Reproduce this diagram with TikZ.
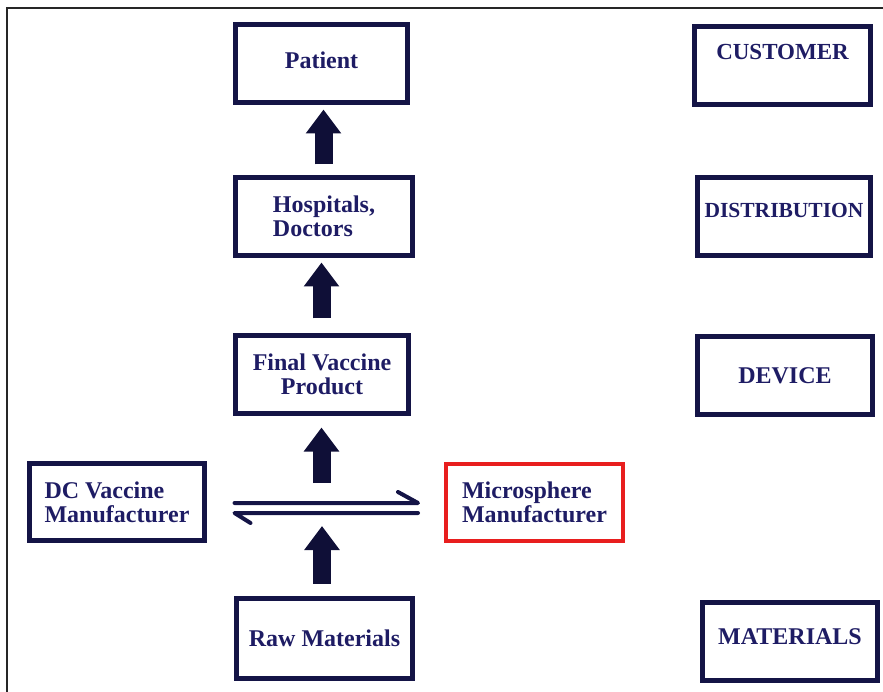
\documentclass[tikz,border=0pt]{standalone}
\usepackage{fontspec}
\setmainfont{Liberation Serif}
\usetikzlibrary{arrows.meta,calc}
\definecolor{navy}{RGB}{20,20,70}
\definecolor{txt}{RGB}{30,28,100}
\definecolor{arrowc}{RGB}{15,15,55}
\definecolor{redbox}{RGB}{232,30,30}
\begin{document}
\begin{tikzpicture}[x=1pt,y=-1pt,
  box/.style={draw=navy, line width=5pt, inner sep=0pt, text=txt,
    font=\fontsize{24}{24}\selectfont\bfseries, minimum height=78pt},
  redframe/.style={box, draw=redbox, line width=4pt},
  blk/.style={line width=18pt, draw=arrowc,
    -{Triangle[width=34pt,length=24pt]}},
  harp/.style={draw=navy, line width=4pt, line cap=round, line join=round},
  frame/.style={draw=black!85, line width=1.6pt}]
\useasboundingbox (0,0) rectangle (883,692);
% outer frame
\coordinate (fbl) at (7,692);
\coordinate (ftl) at (7,8);
\coordinate (ftr) at (883,8);
\draw[frame] (fbl) -- (ftl) -- (ftr);

% left column
\node[box, minimum width=172pt, text depth=7pt] (patient) at (321.5,63.5) {Patient};
\node[box, minimum width=177pt, align=left] (hosp) at (324,216.5) {Hospitals,\\Doctors};
\node[box, minimum width=173pt, align=center] (final) at (322,374.5) {Final Vaccine\\Product};
\node[box, minimum width=175pt, minimum height=77pt, align=left] (dc) at (117,502) {DC Vaccine\\Manufacturer};
\node[redframe, minimum width=177pt, minimum height=77pt, align=left] (micro) at (534.5,502.5) {Microsphere\\Manufacturer};
\node[box, minimum width=176pt, minimum height=80pt] (raw) at (324.5,638.5) {Raw Materials};

% right column
\node[box, minimum width=176pt, text depth=27pt, font=\fontsize{23}{23}\selectfont\bfseries] (customer) at (782.5,65.5) {CUSTOMER};
\node[box, minimum width=173pt, text depth=13pt, font=\fontsize{21.5}{21.5}\selectfont\bfseries] (distrib) at (784,216.5) {DISTRIBUTION};
\node[box, minimum width=175pt] (device) at (785,375.5) {DEVICE};
\node[box, minimum width=175pt, text depth=9pt] (materials) at (790,641.5) {MATERIALS};

% block arrows (vertical, on a common column)
\coordinate (colA) at (323.5,0);
\coordinate (colB) at (321.5,0);
\coordinate (a1s) at ($(hosp.north -| colA)+(0,-10.5)$);
\coordinate (a1e) at ($(patient.south -| colA)+(0,4.5)$);
\draw[blk] (a1s) -- (a1e);
\coordinate (a2s) at ($(final.north -| colB)+(0,-14.5)$);
\coordinate (a2e) at ($(hosp.south -| colB)+(0,4.5)$);
\draw[blk] (a2s) -- (a2e);
\coordinate (a3s) at (321.5,483);
\coordinate (a3e) at ($(final.south -| a3s)+(0,11.5)$);
\draw[blk] (a3s) -- (a3e);
\coordinate (a4e) at (322,526);
\coordinate (a4s) at ($(raw.north -| a4e)+(0,-12.5)$);
\draw[blk] (a4s) -- (a4e);

% exchange harpoons
\draw[harp] ([shift={(27.5,1)}]dc.east) -- ([shift={(-26,0.5)}]micro.west) -- ++(-20,-11);
\draw[harp] ([shift={(-26,10.5)}]micro.west) -- ([shift={(27.5,11)}]dc.east) -- ++(16,10);
\end{tikzpicture}
\end{document}
